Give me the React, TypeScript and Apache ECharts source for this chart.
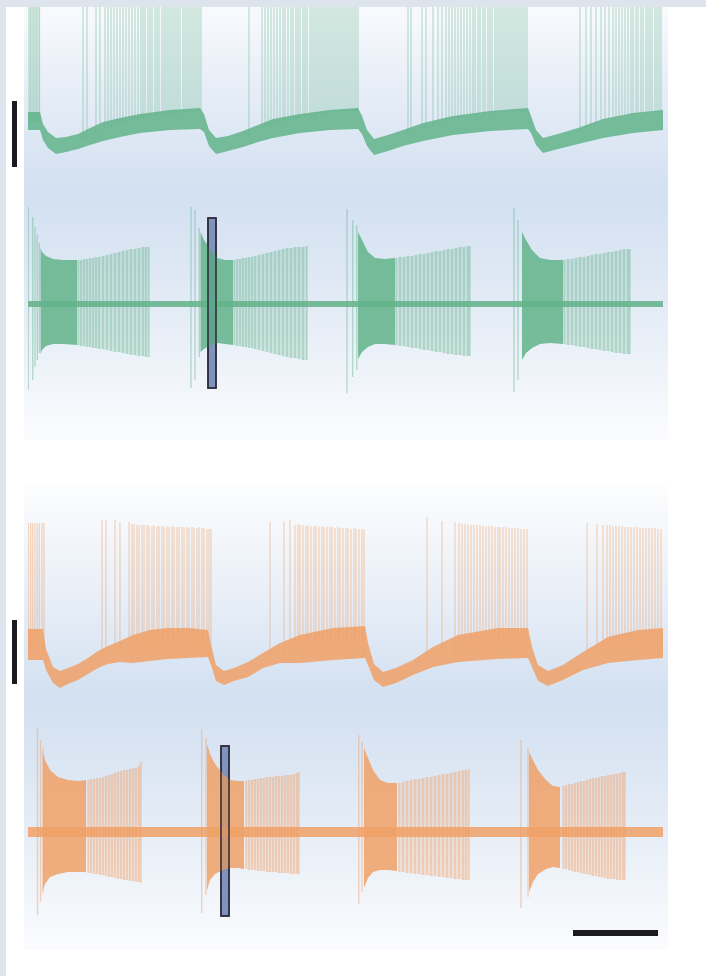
import React, { useEffect, useRef } from "react";
import * as echarts from "echarts";

// ---------- data (time axis: 0..635 units, values in trace units) ----------
// Green intracellular (Vm) trace: noise band [t, top, bottom]
const greenVmBand = [
  [0, 18, 0], [12, 18, 0], [15, 6, -10], [20, -2, -18], [28, -8, -24], [38, -7, -22], [50, -4, -19],
  [62, 2, -15], [75, 8, -11], [92, 12, -7], [112, 16, -3], [142, 20, 0], [172, 22, 1], [176, 16, -2],
  [181, 0, -16], [188, -8, -24], [200, -6, -21], [215, -1, -17], [230, 5, -12], [245, 11, -8],
  [272, 16, -3], [302, 20, 0], [330, 22, 1], [334, 14, -4], [339, 0, -16], [346, -9, -25],
  [360, -5, -21], [375, 0, -16], [395, 7, -11], [425, 14, -5], [462, 19, -1], [500, 22, 1],
  [503, 14, -3], [508, 0, -15], [515, -8, -23], [530, -4, -19], [550, 2, -14], [575, 11, -8],
  [605, 17, -3], [635, 20, 0],
];
// Green Vm spikes [t, base]; all spikes run off the top of the panel
const greenVmPeak = 123;
const greenVmSpikes = [
  [1, 8], [2.5, 8], [4, 8], [5.5, 8], [7, 8], [8.5, 8], [10, 8], [11.5, 8],
  [55, -10], [59, -9], [68, -6], [72, -4], [77, 0], [80, 2], [83, 3], [86, 4], [89, 5], [92, 6], [95, 7],
  [98, 8], [101, 9], [104, 10], [107, 10], [110, 11], [113, 12], [115, 12], [117, 13], [120, 13],
  [122, 14], [124, 14], [127, 14], [129, 15], [131, 15], [134, 15], [136, 16], [138, 16], [140, 16],
  [142, 16], [144, 17], [146, 17], [148, 17], [150, 17], [152, 17], [155, 18], [157, 18], [159, 18],
  [161, 18], [163, 18], [165, 18], [167, 19], [169, 19], [171, 19], [173, 19],
  [221, -6], [234, 2], [237, 3], [240, 4], [243, 5], [246, 6], [249, 7], [252, 8], [255, 9], [257, 9],
  [260, 10], [263, 10], [265, 11], [268, 11], [270, 12], [272, 12], [275, 13], [277, 13], [279, 14],
  [282, 14], [284, 15], [286, 15], [288, 15], [290, 16], [292, 16], [294, 16], [296, 17], [298, 17],
  [300, 17], [302, 17], [304, 18], [306, 18], [308, 18], [310, 18], [312, 18], [314, 19], [316, 19],
  [318, 19], [320, 19], [322, 19], [324, 19], [326, 19], [328, 19], [330, 19],
  [380, -4], [383, -3], [394, 0], [398, 2], [405, 4], [410, 6], [414, 8], [418, 9], [421, 10],
  [424, 11], [427, 12], [430, 12], [433, 13], [436, 13], [439, 14], [442, 14], [445, 15], [447, 15],
  [450, 15], [452, 16], [455, 16], [457, 16], [460, 17], [462, 17], [464, 17], [467, 17], [469, 18],
  [471, 18], [473, 18], [475, 18], [477, 18], [479, 18], [481, 19], [483, 19], [485, 19], [487, 19],
  [489, 19], [491, 19], [493, 19], [495, 19], [497, 19], [499, 19],
  [552, -2], [558, 2], [563, 5], [568, 7], [573, 9], [577, 10], [581, 11], [585, 12], [588, 13],
  [591, 13], [594, 14], [597, 14], [600, 15], [603, 15], [605, 16], [608, 16], [610, 16], [613, 17],
  [615, 17], [618, 17], [620, 17], [622, 18], [624, 18], [627, 18], [629, 18], [631, 18], [633, 18],
];

// Green extracellular trace [t, top, bottom]
const greenExtBase = [[0, 3, -3], [635, 3, -3]];
const greenExtBig = [
  [0.3, 97, -86], [4.7, 87, -76], [7, 77, -63], [9.3, 69, -56], [11.3, 61, -49],
  [163, 97, -84], [167, 94, -76], [171.3, 76, -53],
  [319, 95, -89], [324.7, 84, -73], [328.7, 79, -66],
  [486, 96, -88], [490, 84, -76],
];
const greenExtDense1 = [[12.5, 56, -50], [14, 52, -46], [18, 48, -42], [25, 45, -40], [35, 44, -40], [49, 44, -41]];
const greenExtDense2 = [[172.5, 72, -48], [176, 64, -45], [181, 57, -42], [189, 46, -39], [197, 44, -40], [205, 44, -41]];
const greenExtDense3 = [[330, 72, -55], [334, 64, -48], [340, 52, -43], [347, 46, -40], [357, 45, -40], [367, 46, -41]];
const greenExtDense4 = [[494, 72, -56], [498, 64, -49], [504, 54, -44], [512, 46, -40], [522, 44, -39], [535, 44, -40]];
const greenExtSparse1 = [
  [50, 44, -41], [53, 44, -42], [56, 45, -42], [59, 45, -43], [62, 46, -43], [65, 46, -44], [68, 47, -44],
  [71, 47, -45], [75, 48, -45], [79, 49, -46], [83, 50, -47], [87, 51, -48], [91, 52, -48], [95, 53, -49],
  [99, 54, -50], [103, 55, -51], [107, 55, -51], [111, 56, -52], [115, 57, -52], [118, 57, -53], [121, 57, -53],
];
const greenExtSparse2 = [
  [206, 44, -41], [209, 45, -42], [212, 45, -42], [215, 46, -43], [218, 46, -43], [221, 47, -44],
  [224, 47, -44], [227, 48, -45], [231, 49, -46], [235, 50, -47], [239, 51, -48], [243, 52, -49],
  [247, 53, -50], [251, 54, -51], [255, 55, -52], [259, 56, -53], [263, 56, -54], [267, 57, -54],
  [271, 57, -55], [275, 57, -56], [279, 58, -56],
];
const greenExtSparse3 = [
  [368, 46, -41], [372, 47, -42], [376, 47, -42], [380, 48, -43], [384, 48, -44], [388, 49, -44],
  [392, 50, -45], [396, 50, -46], [400, 51, -46], [404, 52, -47], [408, 53, -48], [412, 53, -48],
  [416, 54, -49], [420, 55, -50], [424, 55, -50], [428, 56, -51], [432, 57, -51], [436, 57, -52],
  [440, 58, -52], [442, 58, -52],
];
const greenExtSparse4 = [
  [536, 44, -40], [540, 45, -41], [544, 45, -41], [548, 46, -42], [552, 47, -43], [556, 47, -43],
  [560, 48, -44], [564, 49, -45], [568, 50, -45], [572, 50, -46], [576, 51, -47], [580, 52, -47],
  [584, 52, -48], [588, 53, -49], [592, 54, -49], [596, 55, -50], [600, 55, -50], [602, 55, -50],
];
// highlighted analysis window on the green extracellular trace [tStart, tEnd, top, bottom]
const greenWindow = [180, 188, 86, -84];

// Orange intracellular (Vm) trace: noise band [t, top, bottom]
const orangeVmBand = [
  [0, 26, -5], [15, 26, -5], [18, 6, -15], [25, -12, -28], [32, -16, -33], [40, -13, -29], [50, -9, -25],
  [60, -3, -19], [70, 4, -13], [80, 9, -9], [92, 14, -7], [105, 20, -8], [122, 25, -6], [140, 27, -4],
  [160, 27, -3], [180, 25, -2], [183, 10, -10], [188, -10, -26], [196, -16, -30], [206, -13, -26],
  [220, -7, -22], [235, 2, -13], [252, 12, -8], [272, 20, -8], [305, 27, -5], [337, 29, -3],
  [340, 12, -10], [346, -9, -25], [355, -17, -32], [368, -13, -28], [385, -5, -20], [405, 8, -12],
  [430, 20, -7], [470, 27, -4], [500, 27, -3], [504, 8, -12], [510, -10, -26], [520, -16, -31],
  [535, -10, -25], [555, 3, -15], [580, 18, -8], [610, 25, -5], [635, 27, -3],
];
// Orange Vm spikes [t, peak]
const orangeVmSpikes = [
  [0.3, 132], [2.7, 132], [4.7, 132], [7, 132], [9.3, 132], [11.3, 132], [14, 132], [16, 132],
  [74, 135], [78, 135], [87, 135], [92, 133], [101, 133], [104, 131], [106, 131], [109, 130], [111, 130],
  [114, 130], [116, 130], [119, 130], [121, 129], [124, 129], [126, 130], [129, 129], [131, 129],
  [134, 129], [136, 128], [139, 129], [141, 128], [144, 129], [146, 128], [149, 128], [151, 128],
  [154, 128], [156, 128], [159, 128], [161, 127], [164, 128], [166, 127], [169, 127], [171, 128],
  [174, 127], [176, 127], [179, 126], [181, 126], [183, 126],
  [242, 133], [256, 133], [262, 135], [267, 130], [270, 131], [272, 130], [275, 130], [278, 129],
  [280, 130], [283, 129], [286, 129], [288, 129], [291, 128], [294, 129], [296, 128], [299, 128],
  [302, 128], [304, 128], [307, 127], [310, 128], [312, 127], [315, 127], [318, 127], [320, 127],
  [323, 126], [326, 127], [328, 126], [331, 126], [334, 126], [336, 126],
  [399, 138], [414, 134], [427, 133], [431, 132], [434, 131], [437, 131], [440, 131], [443, 130],
  [446, 130], [449, 130], [452, 130], [455, 129], [458, 129], [461, 129], [464, 129], [467, 128],
  [470, 128], [472, 128], [475, 128], [478, 128], [481, 127], [484, 127], [487, 127], [490, 127],
  [493, 126], [496, 126], [499, 126],
  [559, 132], [569, 131], [575, 130], [579, 130], [582, 130], [585, 129], [588, 129], [591, 129],
  [594, 129], [597, 128], [600, 128], [603, 128], [606, 128], [609, 128], [612, 127], [615, 127],
  [618, 127], [621, 127], [624, 127], [627, 127], [630, 126], [633, 126],
];

// Orange extracellular trace [t, top, bottom]
const orangeExtBase = [[0, 5, -5], [635, 5, -5]];
const orangeExtBig = [
  [9.5, 104, -83], [12.6, 92, -70], [14.9, 84, -61],
  [173.7, 103, -81], [178, 94, -63],
  [330.8, 97, -72], [334, 90, -60],
  [493, 92, -76], [500, 84, -65],
];
const orangeExtDense1 = [[15, 80, -58], [17, 72, -52], [22, 62, -45], [30, 55, -42], [40, 52, -40], [50, 51, -40], [58, 52, -40]];
const orangeExtDense2 = [[179, 88, -58], [182, 78, -48], [187, 68, -42], [195, 58, -38], [202, 52, -36], [210, 51, -36], [216, 51, -37]];
const orangeExtDense3 = [[336, 84, -56], [340, 74, -46], [345, 62, -40], [352, 52, -38], [360, 49, -38], [369, 49, -39]];
const orangeExtDense4 = [[501, 80, -60], [505, 72, -50], [510, 62, -42], [518, 52, -37], [525, 46, -35], [532, 45, -36]];
const orangeExtSparse1 = [
  [60, 52, -41], [63, 53, -41], [66, 53, -42], [69, 54, -42], [72, 54, -43], [75, 55, -43], [78, 56, -44],
  [81, 57, -45], [84, 58, -45], [87, 59, -46], [90, 60, -47], [93, 61, -47], [96, 62, -48], [99, 62, -48],
  [102, 63, -49], [105, 64, -49], [108, 64, -50], [111, 66, -50], [113, 70, -51],
];
const orangeExtSparse2 = [
  [218, 51, -37], [221, 52, -38], [224, 52, -38], [227, 53, -38], [230, 53, -39], [233, 54, -39],
  [236, 54, -39], [239, 55, -40], [242, 55, -40], [245, 55, -40], [248, 56, -40], [251, 56, -41],
  [254, 56, -41], [257, 57, -41], [260, 57, -41], [263, 57, -42], [266, 58, -42], [269, 59, -42], [271, 60, -42],
];
const orangeExtSparse3 = [
  [371, 49, -40], [375, 50, -40], [379, 51, -41], [383, 52, -41], [387, 53, -42], [391, 53, -42],
  [395, 54, -43], [399, 55, -43], [403, 55, -44], [407, 56, -44], [411, 57, -45], [415, 58, -45],
  [419, 58, -46], [423, 59, -46], [427, 60, -47], [431, 61, -47], [435, 62, -48], [438, 62, -48], [441, 63, -48],
];
const orangeExtSparse4 = [
  [535, 46, -37], [538, 47, -37], [541, 48, -38], [544, 48, -39], [547, 49, -40], [550, 50, -40],
  [553, 51, -41], [556, 51, -42], [559, 52, -42], [562, 53, -43], [565, 54, -44], [568, 54, -44],
  [571, 55, -45], [574, 56, -45], [577, 56, -46], [580, 57, -47], [583, 57, -47], [586, 58, -47],
  [589, 58, -48], [592, 59, -48], [595, 60, -48], [597, 60, -48],
];
// highlighted analysis window on the orange extracellular trace [tStart, tEnd, top, bottom]
const orangeWindow = [193, 201, 86, -84];

// ---------- styling ----------
const GREEN_BAND = "rgba(98,179,138,0.85)";
const GREEN_SPIKE = "rgba(98,179,138,0.42)";
const GREEN_FAINT = "rgba(98,179,138,0.22)";
const ORANGE_BAND = "rgba(240,160,102,0.85)";
const ORANGE_SPIKE = "rgba(240,160,102,0.45)";
const ORANGE_FAINT = "rgba(240,160,102,0.22)";

function lineSeries(grid: number, data: number[][], color: string, width: number, z: number) {
  return {
    type: "custom",
    xAxisIndex: grid,
    yAxisIndex: grid,
    data,
    clip: true,
    silent: true,
    z,
    encode: { x: 0, y: [1, 2] },
    renderItem: (_p: any, api: any) => {
      const t = api.value(0);
      const a = api.coord([t, api.value(1)]);
      const b = api.coord([t, api.value(2)]);
      return {
        type: "line",
        shape: { x1: a[0], y1: a[1], x2: b[0], y2: b[1] },
        style: { stroke: color, lineWidth: width },
      };
    },
  };
}

function bandSeries(grid: number, pts: number[][], color: string, z: number) {
  return {
    type: "custom",
    xAxisIndex: grid,
    yAxisIndex: grid,
    data: pts,
    clip: true,
    silent: true,
    z,
    encode: { x: 0, y: [1, 2] },
    renderItem: (params: any, api: any) => {
      if (params.dataIndex !== 0) return null;
      const up = pts.map((p) => api.coord([p[0], p[1]]));
      const dn = pts.slice().reverse().map((p) => api.coord([p[0], p[2]]));
      return { type: "polygon", shape: { points: up.concat(dn) }, style: { fill: color } };
    },
  };
}

function windowSeries(grid: number, w: number[], fill: string, stroke: string, z: number) {
  return {
    type: "custom",
    xAxisIndex: grid,
    yAxisIndex: grid,
    data: [w],
    silent: true,
    z,
    encode: { x: [0, 1], y: [2, 3] },
    renderItem: (_p: any, api: any) => {
      const a = api.coord([api.value(0), api.value(2)]);
      const b = api.coord([api.value(1), api.value(3)]);
      return {
        type: "rect",
        shape: { x: a[0], y: a[1], width: b[0] - a[0], height: b[1] - a[1] },
        style: { fill, stroke, lineWidth: 1.5 },
      };
    },
  };
}

export default function App() {
  const ref = useRef<HTMLDivElement>(null);
  useEffect(() => {
    document.body.style.margin = "0";
    document.body.style.background = "#ffffff";
    if (!ref.current) return;
    const chart = echarts.init(ref.current, undefined, { renderer: "svg" });

    const grids = [
      { left: 28, width: 635, top: 7, height: 153 },
      { left: 28, width: 635, top: 204, height: 200 },
      { left: 28, width: 635, top: 515, height: 180 },
      { left: 28, width: 635, top: 722, height: 220 },
    ];
    const yr = [
      [-30, 123],
      [-100, 100],
      [-40, 140],
      [-110, 110],
    ];

    const panelGrad1 = new echarts.graphic.LinearGradient(0, 0, 0, 1, [
      { offset: 0, color: "#f8fafd" },
      { offset: 0.2, color: "#e6edf7" },
      { offset: 0.43, color: "#d2e0f1" },
      { offset: 0.7, color: "#e4ecf6" },
      { offset: 1, color: "#fbfcfe" },
    ]);
    const panelGrad2 = new echarts.graphic.LinearGradient(0, 0, 0, 1, [
      { offset: 0, color: "#fcfdfe" },
      { offset: 0.25, color: "#e7eef7" },
      { offset: 0.46, color: "#d2e0f1" },
      { offset: 0.72, color: "#e4ecf6" },
      { offset: 1, color: "#fbfcfe" },
    ]);

    const series: any[] = [
      // green Vm
      lineSeries(0, greenVmSpikes.map((s) => [s[0], greenVmPeak, s[1]]), GREEN_SPIKE, 1.2, 3),
      bandSeries(0, greenVmBand, GREEN_BAND, 4),
      // green extracellular
      windowSeries(1, greenWindow, "#8a9bca", "#2e2e38", 2),
      bandSeries(1, greenExtBase, GREEN_BAND, 3),
      bandSeries(1, greenExtSparse1, GREEN_FAINT, 3),
      bandSeries(1, greenExtSparse2, GREEN_FAINT, 3),
      bandSeries(1, greenExtSparse3, GREEN_FAINT, 3),
      bandSeries(1, greenExtSparse4, GREEN_FAINT, 3),
      lineSeries(1, greenExtSparse1.concat(greenExtSparse2, greenExtSparse3, greenExtSparse4), GREEN_SPIKE, 1.3, 4),
      bandSeries(1, greenExtDense1, GREEN_BAND, 4),
      bandSeries(1, greenExtDense2, GREEN_BAND, 4),
      bandSeries(1, greenExtDense3, GREEN_BAND, 4),
      bandSeries(1, greenExtDense4, GREEN_BAND, 4),
      lineSeries(1, greenExtBig, GREEN_SPIKE, 1.4, 4),
      windowSeries(1, greenWindow, "rgba(60,80,110,0.12)", "#2e2e38", 6),
      // orange Vm
      lineSeries(2, orangeVmSpikes.map((s) => [s[0], s[1], 0]), ORANGE_SPIKE, 1.2, 3),
      bandSeries(2, orangeVmBand, ORANGE_BAND, 4),
      // orange extracellular
      windowSeries(3, orangeWindow, "#8a9bca", "#2e2e38", 2),
      bandSeries(3, orangeExtBase, ORANGE_BAND, 3),
      bandSeries(3, orangeExtSparse1, ORANGE_FAINT, 3),
      bandSeries(3, orangeExtSparse2, ORANGE_FAINT, 3),
      bandSeries(3, orangeExtSparse3, ORANGE_FAINT, 3),
      bandSeries(3, orangeExtSparse4, ORANGE_FAINT, 3),
      lineSeries(3, orangeExtSparse1.concat(orangeExtSparse2, orangeExtSparse3, orangeExtSparse4), ORANGE_SPIKE, 1.3, 4),
      bandSeries(3, orangeExtDense1, ORANGE_BAND, 4),
      bandSeries(3, orangeExtDense2, ORANGE_BAND, 4),
      bandSeries(3, orangeExtDense3, ORANGE_BAND, 4),
      bandSeries(3, orangeExtDense4, ORANGE_BAND, 4),
      lineSeries(3, orangeExtBig, ORANGE_SPIKE, 1.4, 4),
      windowSeries(3, orangeWindow, "rgba(60,80,110,0.12)", "#2e2e38", 6),
    ];

    chart.setOption({
      animation: false,
      backgroundColor: "#ffffff",
      grid: grids,
      xAxis: grids.map((_, i) => ({ type: "value", gridIndex: i, min: 0, max: 635, show: false })),
      yAxis: grids.map((_, i) => ({
        type: "value",
        gridIndex: i,
        min: yr[i][0],
        max: yr[i][1],
        show: false,
      })),
      graphic: [
        { type: "rect", z: -10, shape: { x: 0, y: 0, width: 706, height: 7 }, style: { fill: "#dde4ee" } },
        { type: "rect", z: -10, shape: { x: 0, y: 0, width: 6, height: 976 }, style: { fill: "#dde4ee" } },
        { type: "rect", z: -9, shape: { x: 24, y: 7, width: 644, height: 433 }, style: { fill: panelGrad1 } },
        { type: "rect", z: -9, shape: { x: 24, y: 486, width: 644, height: 464 }, style: { fill: panelGrad2 } },
        { type: "rect", z: 50, shape: { x: 12, y: 101, width: 5, height: 66 }, style: { fill: "#1c1a1c" } },
        { type: "rect", z: 50, shape: { x: 12, y: 620, width: 5, height: 64 }, style: { fill: "#1c1a1c" } },
        { type: "rect", z: 50, shape: { x: 573, y: 930, width: 85, height: 6 }, style: { fill: "#1c1a1c" } },
      ],
      series,
    });
    return () => chart.dispose();
  }, []);
  return <div ref={ref} style={{ width: 706, height: 976 }} />;
}
